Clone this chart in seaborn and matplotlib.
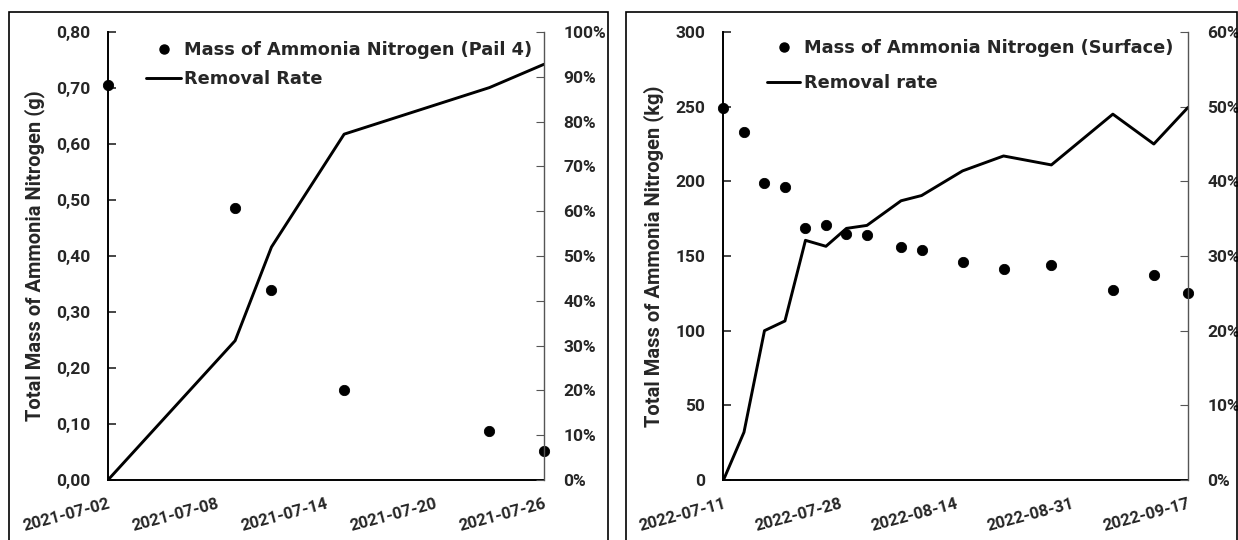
import pandas as pd
import matplotlib
matplotlib.use("Agg")
import matplotlib.pyplot as plt
import matplotlib.dates as mdates
from matplotlib.ticker import FuncFormatter, MultipleLocator
from matplotlib.patches import Rectangle
from matplotlib.lines import Line2D
import seaborn as sns

# ---- data: Pail 4 ----
pail_dates = ["2021-07-02", "2021-07-09", "2021-07-11", "2021-07-15", "2021-07-23", "2021-07-26"]
pail_mass = [0.705, 0.485, 0.340, 0.161, 0.087, 0.052]
pail_rate = [0.0, 0.311, 0.520, 0.772, 0.876, 0.928]

# ---- data: Surface ----
surf_dates = ["2022-07-11", "2022-07-14", "2022-07-17", "2022-07-20", "2022-07-23", "2022-07-26",
              "2022-07-29", "2022-08-01", "2022-08-06", "2022-08-09", "2022-08-15", "2022-08-21",
              "2022-08-28", "2022-09-06", "2022-09-12", "2022-09-17"]
surf_mass = [249, 233, 199, 196, 169, 171, 165, 164, 156, 154, 146, 141, 144, 127, 137, 125]
surf_rate = [0.0, 0.064, 0.200, 0.213, 0.321, 0.313, 0.337, 0.341, 0.374, 0.381, 0.414, 0.434,
             0.422, 0.490, 0.450, 0.499]

pail = pd.DataFrame({"Date": pd.to_datetime(pail_dates), "Mass": pail_mass, "Rate": pail_rate})
surf = pd.DataFrame({"Date": pd.to_datetime(surf_dates), "Mass": surf_mass, "Rate": surf_rate})

sns.set_theme(style="white")
plt.rcParams["font.family"] = ["Roboto", "DejaVu Sans"]
plt.rcParams["font.weight"] = "bold"

fig = plt.figure(figsize=(12.38, 5.4), dpi=100)

# panel borders (bottom edge runs off the image)
fig.patches.append(Rectangle((0.0073, -0.02), 0.4838, 0.997, transform=fig.transFigure,
                             fill=False, edgecolor="black", linewidth=1.2))
fig.patches.append(Rectangle((0.5057, -0.02), 0.4935, 0.997, transform=fig.transFigure,
                             fill=False, edgecolor="black", linewidth=1.2))


def draw_panel(rect, df, ymax, ystep, yfmt, pmax, pstep, tick_step, ylabel,
               mass_label, rate_label, leg_anchor, leg_spacing, leg_handle, leg_pad):
    ax = fig.add_axes(rect)
    ax2 = ax.twinx()
    sns.scatterplot(data=df, x="Date", y="Mass", ax=ax, color="black", s=55,
                    edgecolor="black", zorder=5, clip_on=False)
    sns.lineplot(data=df, x="Date", y="Rate", ax=ax2, color="black", linewidth=2.1)

    start, end = df["Date"].iloc[0], df["Date"].iloc[-1]
    ax.set_xlim(start, end)
    ax.set_ylim(0, ymax)
    ax2.set_ylim(0, pmax)
    ax.set_xticks(pd.date_range(start, end, freq=f"{tick_step}D"))
    ax.xaxis.set_major_formatter(mdates.DateFormatter("%Y-%m-%d"))
    ax.yaxis.set_major_locator(MultipleLocator(ystep))
    ax.yaxis.set_major_formatter(FuncFormatter(yfmt))
    ax2.yaxis.set_major_locator(MultipleLocator(pstep))
    ax2.yaxis.set_major_formatter(FuncFormatter(lambda v, p: f"{v * 100:.0f}%"))

    ax.tick_params(axis="y", direction="in", length=6, width=1.2, pad=13, labelsize=12.5)
    ax.tick_params(axis="x", direction="in", length=6, width=1.2, pad=12, labelsize=12)
    ax2.tick_params(axis="y", direction="in", length=6, width=0.8, pad=14, labelsize=12.5,
                    color="#555555")
    for lab in ax.get_xticklabels():
        lab.set_rotation(15)
        lab.set_ha("right")
        lab.set_rotation_mode("anchor")
        lab.set_fontweight("bold")
    for lab in ax.get_yticklabels() + ax2.get_yticklabels():
        lab.set_fontweight("bold")

    for a in (ax, ax2):
        a.spines["top"].set_visible(False)
        a.set_xlabel("")
    for side in ("left", "bottom"):
        ax.spines[side].set_linewidth(1.4)
        ax.spines[side].set_color("black")
    ax.spines["right"].set_visible(False)
    ax2.spines["right"].set_color("#555555")
    ax2.spines["right"].set_linewidth(1.0)
    ax2.spines["left"].set_visible(False)
    ax2.spines["bottom"].set_visible(False)
    ax2.set_ylabel("")
    ax.set_ylabel(ylabel, fontsize=14.5, fontweight="bold", labelpad=8)

    handles = [Line2D([], [], marker="o", color="black", linestyle="none", markersize=6.5),
               Line2D([], [], color="black", linewidth=2.1)]
    ax.legend(handles, [mass_label, rate_label], loc="upper left", bbox_to_anchor=leg_anchor,
              frameon=False, handlelength=leg_handle, handletextpad=leg_pad,
              borderpad=0, borderaxespad=0, labelspacing=leg_spacing,
              prop={"family": ["DejaVu Sans"], "weight": "bold", "size": 12.8})
    ax2.patch.set_visible(False)
    return ax


draw_panel([0.0872, 0.1111, 0.3522, 0.8296], pail, 0.8, 0.1,
           lambda v, p: f"{v:.2f}".replace(".", ","), 1.0, 0.1, 6,
           "Total Mass of Ammonia Nitrogen (g)",
           "Mass of Ammonia Nitrogen (Pail 4)", "Removal Rate", (0.087, 0.979), 0.62, 2.0, 0.17)

draw_panel([0.5844, 0.1111, 0.3752, 0.8296], surf, 300, 50,
           lambda v, p: f"{v:.0f}", 0.6, 0.1, 17,
           "Total Mass of Ammonia Nitrogen (kg)",
           "Mass of Ammonia Nitrogen (Surface)", "Removal rate", (0.094, 0.984), 0.95, 1.85, 0.22)

fig.savefig("out.png", dpi=100)
